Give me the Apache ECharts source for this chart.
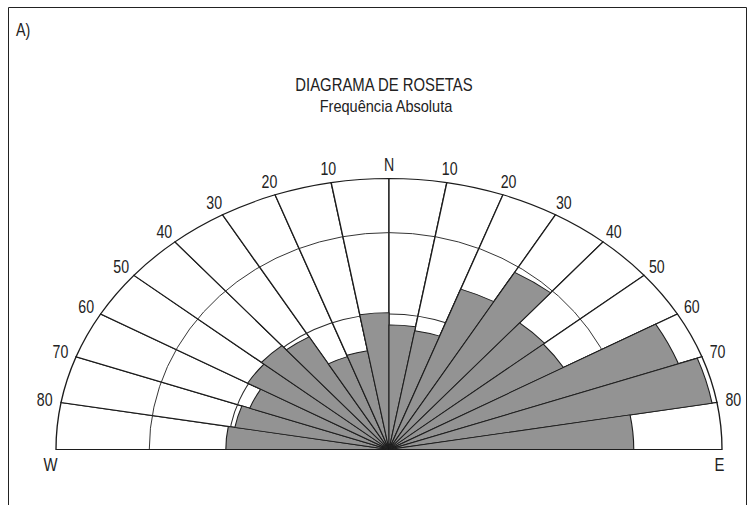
<!DOCTYPE html>
<html>
<head>
<meta charset="utf-8">
<script src="https://cdn.jsdelivr.net/npm/echarts@6/dist/echarts.min.js"></script>
<style>
  html,body{margin:0;padding:0;background:#fff;}
  #wrap{position:relative;width:749px;height:505px;overflow:hidden;}
  .layer{position:absolute;left:0;top:0;width:749px;height:505px;transform-origin:389px 449.5px;}
  .ring{height:450px;}
</style>
</head>
<body>
<div id="wrap">
  <div id="frameLayer" class="layer"></div>
  <div id="baseLayer" class="layer"></div>
  <div id="ringA" class="layer ring"></div>
  <div id="ringB" class="layer ring"></div>
  <div id="barLayer" class="layer"></div>
</div>
<script>
// ---- data ----
const sectors = ['W-80W','80W-70W','70W-60W','60W-50W','50W-40W','40W-30W','30W-20W','20W-10W','10W-N',
                 'N-10E','10E-20E','20E-30E','30E-40E','40E-50E','50E-60E','60E-70E','70E-80E','80E-E'];
const frequency = [9.8, 9.4, 8.9, 9.8, 10.0, 9.6, 7.3, 7.4, 10.1, 9.2, 8.9, 12.6, 15.1, 12.2, 12.1, 18.5, 19.7, 14.7];
const scaleMax = 20;
const ringLevels = [10, 16];
const tickAngles = [-90,-80,-70,-60,-50,-40,-30,-20,-10,0,10,20,30,40,50,60,70,80,90];
const tickLabels = ['', '80','70','60','50','40','30','20','10','N','10','20','30','40','50','60','70','80',''];
const titleText = 'DIAGRAMA DE ROSETAS';
const subtitleText = 'Frequência Absoluta';
const panelLabel = 'A)';
const westLabel = 'W', eastLabel = 'E';

(function(){
// ---- layout / style ----
const FONT = '"Liberation Sans", Arial, sans-serif';
const CX = 389, CY = 449.5, R = 271;
const STRETCH = 1.2288;                // horizontal stretch of the elliptical diagram
const RING_STRETCH = [1.1855, 1.1057]; // the two rings are less elongated than the outer frame
const LINE = '#1c1c1c';

function layer(id, sx){
  const el = document.getElementById(id);
  el.style.transform = 'scaleX(' + sx + ')';
  return echarts.init(el, null, {renderer:'svg'});
}
const hiddenAxis = {axisLine:{show:false}, axisTick:{show:false}, axisLabel:{show:false}, splitLine:{show:false}};

// ---- frame layer (unstretched texts + border) ----
const frameChart = layer('frameLayer', 1);
function txt(x, y, s, size, sx, align){
  return {type:'text', x:x, y:y, scaleX:sx, style:{text:s, font:size+'px '+FONT, fill:'#222', align:align||'center', verticalAlign:'middle'}};
}
frameChart.setOption({
  animation:false,
  graphic:[
    {type:'rect', shape:{x:8.5, y:7.5, width:738, height:530}, style:{fill:'none', stroke:'#222', lineWidth:1}},
    txt(16, 30, panelLabel, 17.5, 0.82, 'left'),
    txt(384, 85, titleText, 18.6, 0.80),
    txt(386, 106, subtitleText, 16, 0.91),
    txt(50.5, 465, westLabel, 17.5, 0.85),
    txt(719.5, 465, eastLabel, 17.5, 0.85)
  ]
});

// ---- base layer: white sectors with radial lines and outer arc ----
const baseChart = layer('baseLayer', STRETCH);
baseChart.setOption({
  animation:false,
  polar:{center:[CX, CY], radius:R},
  angleAxis:Object.assign({type:'category', data:sectors, startAngle:180, endAngle:0, clockwise:true, boundaryGap:true}, hiddenAxis),
  radiusAxis:Object.assign({type:'value', min:0, max:scaleMax, show:false}, hiddenAxis),
  series:[{type:'bar', coordinateSystem:'polar', silent:true, data:sectors.map(()=>scaleMax),
           barCategoryGap:'0%', itemStyle:{color:'#ffffff', borderColor:LINE, borderWidth:1.1}}]
});

// ---- ring layers (drawn with the radius axis split line) ----
function ring(id, level, sx){
  const c = layer(id, sx);
  c.setOption({
    animation:false,
    polar:{center:[CX, CY], radius:R * level / scaleMax},
    angleAxis:Object.assign({type:'value', min:0, max:180, startAngle:180, endAngle:0, clockwise:true}, hiddenAxis),
    radiusAxis:{type:'value', min:0, max:level, interval:level, axisLine:{show:false}, axisTick:{show:false}, axisLabel:{show:false},
                splitLine:{show:true, lineStyle:{color:'#2a2a2a', width:0.9}}}
  });
}
ring('ringA', ringLevels[0], RING_STRETCH[0]);
ring('ringB', ringLevels[1], RING_STRETCH[1]);

// ---- bar layer: frequency sectors and direction labels ----
const barChart = layer('barLayer', STRETCH);
barChart.setOption({
  animation:false,
  polar:[{center:[CX, CY], radius:R}, {center:[CX, CY], radius:R}],
  angleAxis:[
    Object.assign({polarIndex:0, type:'category', data:sectors, startAngle:180, endAngle:0, clockwise:true, boundaryGap:true}, hiddenAxis),
    Object.assign({polarIndex:1, type:'value', min:-90, max:90, interval:10, startAngle:180, endAngle:0, clockwise:true}, hiddenAxis)
  ],
  radiusAxis:[
    Object.assign({polarIndex:0, type:'value', min:0, max:scaleMax, show:false}, hiddenAxis),
    Object.assign({polarIndex:1, type:'value', min:0, max:scaleMax, show:false}, hiddenAxis)
  ],
  series:[
    {type:'bar', coordinateSystem:'polar', polarIndex:0, name:'Frequência', silent:true, data:frequency,
     barCategoryGap:'0%', itemStyle:{color:'#939393', borderColor:'#1e1e1e', borderWidth:0.9}},
    {type:'custom', coordinateSystem:'polar', polarIndex:1, silent:true,
     data:tickAngles.map(a => [scaleMax, a]),
     renderItem:function(params, api){
       const label = tickLabels[params.dataIndex];
       if(!label) return null;
       const p = api.coord([api.value(0) * 1.05, api.value(1)]);
       return {type:'text', x:p[0], y:p[1], scaleX:0.81 / STRETCH,
               style:{text:label, font:'17.5px '+FONT, fill:'#222', align:'center', verticalAlign:'middle'}};
     }}
  ]
});
})();
</script>
</body>
</html>
